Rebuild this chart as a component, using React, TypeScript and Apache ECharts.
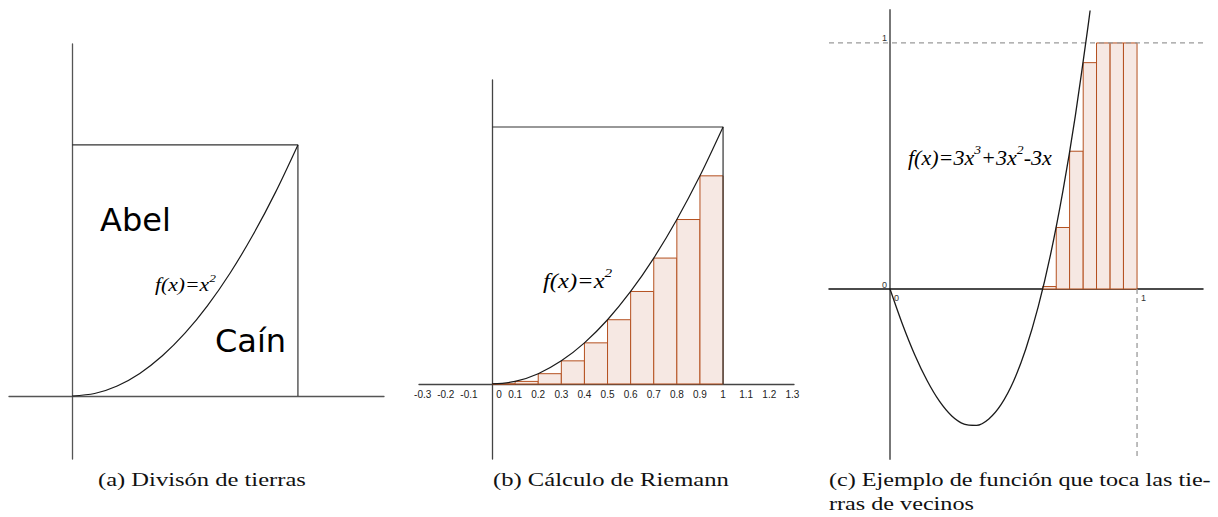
import React, { useEffect, useRef } from "react";
import * as echarts from "echarts";

// ---------- data ----------
// f(x) = x^2 (panels a and b)
const parabolaX = [0, 0.1, 0.2, 0.3, 0.4, 0.5, 0.6, 0.7, 0.8, 0.9, 1];
const parabolaY = [0, 0.01, 0.04, 0.09, 0.16, 0.25, 0.36, 0.49, 0.64, 0.81, 1];

// boundary of the unit square (top and right sides)
const squareX = [0, 1, 1];
const squareY = [1, 1, 0];

// Riemann rectangles (panel b)
const riemannLeft = [0, 0.1, 0.2, 0.3, 0.4, 0.5, 0.6, 0.7, 0.8, 0.9];
const riemannRight = [0.1, 0.2, 0.3, 0.4, 0.5, 0.6, 0.7, 0.8, 0.9, 1];
const riemannHeight = [0, 0.01, 0.04, 0.09, 0.16, 0.25, 0.36, 0.49, 0.64, 0.81];

// x tick labels (panel b)
const riemannTicks = [-0.3, -0.2, -0.1, 0, 0.1, 0.2, 0.3, 0.4, 0.5, 0.6, 0.7, 0.8, 0.9, 1, 1.1, 1.2, 1.3];

// f(x) = 3x^3 + 3x^2 - 3x (panel c)
const cubicX = [0, 0.05, 0.1, 0.15, 0.2, 0.25, 0.3, 0.35, 0.4, 0.45, 0.5, 0.55, 0.6, 0.65, 0.7, 0.75, 0.8, 0.81];
const cubicY = [0, -0.142, -0.267, -0.372, -0.456, -0.516, -0.549, -0.554, -0.528, -0.469, -0.375, -0.243, -0.072, 0.141, 0.399, 0.703, 1.056, 1.132];

// rectangles capped at the neighbour's border (panel c)
const neighbourLeft = [0.618, 0.673, 0.727, 0.782, 0.836, 0.891, 0.945];
const neighbourRight = [0.673, 0.727, 0.782, 0.836, 0.891, 0.945, 1];
const neighbourHeight = [0.01, 0.25, 0.56, 0.92, 1, 1, 1];
const limitLevel = 1;
const cTicksX = [0, 1];
const cTicksY = [0, 1];

// texts
const regionAbove = "Abel";
const regionBelow = "Caín";
const captionA = "(a) Divisón de tierras";
const captionB = "(b) Cálculo de Riemann";
const captionC1 = "(c) Ejemplo de función que toca las tie-";
const captionC2 = "rras de vecinos";

// ---------- style ----------
const BAR_FILL = "#f6e8e3";
const BAR_STROKE = "#b4501f";
const CURVE = "#1a1a1a";
const SERIF = "'Liberation Serif', 'Times New Roman', serif";
const SANS = "'Liberation Sans', Arial, sans-serif";

// axis ranges (view windows)
const A = { xmin: -0.279, xmax: 1.381, ymin: -0.251, ymax: 1.402 };
const B = { xmin: -0.316, xmax: 1.307, ymin: -0.292, ymax: 1.183 };
const C = { xmin: -0.247, xmax: 1.267, ymin: -0.691, ymax: 1.134 };

function measure(text: string, font: string): number {
  const ctx = document.createElement("canvas").getContext("2d");
  if (!ctx) return text.length * 8;
  ctx.font = font;
  return ctx.measureText(text).width;
}

function axis(gridIndex: number, min: number, max: number, lineStyle: any, axisLabel: any = { show: false }) {
  return {
    type: "value",
    gridIndex,
    min,
    max,
    axisLine: lineStyle ? { show: true, onZero: true, lineStyle } : { show: false },
    axisTick: { show: false },
    splitLine: { show: false },
    axisLabel,
  };
}

function lineSeries(xi: number, xs: number[], ys: number[], style: any, smooth: boolean | number = false) {
  return {
    type: "line",
    xAxisIndex: xi,
    yAxisIndex: xi,
    data: xs.map((x, i) => [x, ys[i]]),
    symbol: "none",
    showSymbol: false,
    smooth,
    silent: true,
    clip: false,
    lineStyle: style,
    z: 3,
  };
}

function rectSeries(xi: number, lefts: number[], rights: number[], heights: number[]) {
  return {
    type: "custom",
    xAxisIndex: xi,
    yAxisIndex: xi,
    silent: true,
    z: 2,
    data: lefts.map((l, i) => [l, rights[i], heights[i]]),
    encode: { x: [0, 1], y: 2 },
    renderItem: (_p: any, api: any) => {
      const a = api.coord([api.value(0), api.value(2)]);
      const b = api.coord([api.value(1), 0]);
      return {
        type: "rect",
        shape: { x: a[0], y: a[1], width: b[0] - a[0], height: b[1] - a[1] },
        style: { fill: BAR_FILL, stroke: BAR_STROKE, lineWidth: 1 },
      };
    },
  };
}

function formula(parts: [string, boolean][], x: number, y: number, size: number, scaleX: number) {
  const text = parts.map(([t, sup]) => `{${sup ? "s" : "m"}|${t}}`).join("");
  return {
    type: "text",
    x,
    y,
    scaleX,
    silent: true,
    z: 10,
    style: {
      text,
      fill: "#000",
      align: "left",
      verticalAlign: "middle",
      rich: {
        m: { fontFamily: SERIF, fontStyle: "italic", fontSize: size, lineHeight: size * 1.4, fill: "#000" },
        s: { fontFamily: SERIF, fontStyle: "italic", fontSize: size * 0.62, verticalAlign: "top", fill: "#000" },
      },
    },
  };
}

function caption(text: string, x: number, y: number, scaleX: number) {
  return {
    type: "text",
    x,
    y,
    scaleX,
    silent: true,
    style: { text, font: `18px ${SERIF}`, fill: "#111", align: "left", verticalAlign: "middle" },
  };
}

export default function App() {
  const ref = useRef<HTMLDivElement>(null);

  useEffect(() => {
    if (!ref.current) return;
    const chart = echarts.init(ref.current, undefined, { renderer: "svg" });

    const capFont = `18px ${SERIF}`;
    const sA = 208 / measure(captionA, capFont);
    const sB = 236 / measure(captionB, capFont);
    const sC = 382 / measure(captionC1, capFont);

    const bLabel = {
      show: true,
      customValues: riemannTicks,
      margin: 5,
      fontSize: 10,
      fontFamily: SANS,
      color: "#222",
      hideOverlap: false,
      formatter: (v: number) => (Math.abs(v) < 1e-9 ? "{z|0}" : String(Math.round(v * 10) / 10)),
      rich: { z: { padding: [0, 0, 0, 14], fontSize: 10, fontFamily: SANS, color: "#222" } },
    };
    const cxLabel = {
      show: true,
      customValues: cTicksX,
      align: "left",
      padding: [0, 0, 0, 4],
      margin: 4,
      fontSize: 9,
      fontFamily: SANS,
      color: "#333",
      hideOverlap: false,
    };
    const cyLabel = {
      show: true,
      customValues: cTicksY,
      margin: 3,
      verticalAlign: "bottom",
      fontSize: 9,
      fontFamily: SANS,
      color: "#333",
      hideOverlap: false,
    };

    const option: any = {
      animation: false,
      grid: [
        { left: 9, top: 44, width: 375, height: 415, outerBoundsMode: "none" },
        { left: 419, top: 80, width: 375, height: 379, outerBoundsMode: "none" },
        { left: 829, top: 10, width: 374, height: 449, outerBoundsMode: "none" },
        // label-only grids whose edges sit on the zero lines
        { left: 419, top: 80, width: 375, height: 304, outerBoundsMode: "none" },
        { left: 890, top: 10, width: 313, height: 279, outerBoundsMode: "none" },
      ],
      xAxis: [
        axis(0, A.xmin, A.xmax, { color: "#555", width: 1.3 }),
        axis(1, B.xmin, B.xmax, { color: "#444", width: 1.3 }),
        axis(2, C.xmin, C.xmax, { color: "#111", width: 1.5 }),
        axis(3, B.xmin, B.xmax, null, bLabel),
        axis(4, 0, C.xmax, null, cxLabel),
      ],
      yAxis: [
        axis(0, A.ymin, A.ymax, { color: "#555", width: 1.3 }),
        axis(1, B.ymin, B.ymax, { color: "#444", width: 1.3 }),
        axis(2, C.ymin, C.ymax, { color: "#777", width: 2 }),
        axis(3, 0, B.ymax, null),
        axis(4, 0, C.ymax, null, cyLabel),
      ],
      series: [
        // panel a
        lineSeries(0, squareX, squareY, { color: "#333", width: 1.2 }),
        lineSeries(0, parabolaX, parabolaY, { color: CURVE, width: 1.2 }, 0.3),
        // panel b
        rectSeries(1, riemannLeft, riemannRight, riemannHeight),
        lineSeries(1, squareX, squareY, { color: "#333", width: 1.2 }),
        lineSeries(1, parabolaX, parabolaY, { color: CURVE, width: 1.2 }, 0.3),
        // panel c
        lineSeries(2, [C.xmin, C.xmax], [limitLevel, limitLevel], { color: "#9a9a9a", width: 1.3, type: [5, 4] }),
        lineSeries(2, [1, 1], [0, C.ymin], { color: "#9a9a9a", width: 1.3, type: [5, 4] }),
        rectSeries(2, neighbourLeft, neighbourRight, neighbourHeight),
        lineSeries(2, cubicX, cubicY, { color: CURVE, width: 1.3 }, 0.3),
      ],
      graphic: [
        {
          type: "text",
          x: 100,
          y: 220,
          silent: true,
          style: { text: regionAbove, font: `32px 'DejaVu Sans', sans-serif`, fill: "#000", verticalAlign: "middle" },
        },
        {
          type: "text",
          x: 215,
          y: 341,
          silent: true,
          style: { text: regionBelow, font: `32px 'DejaVu Sans', sans-serif`, fill: "#000", verticalAlign: "middle" },
        },
        formula([["f(x)=x", false], ["2", true]], 155, 285, 18, 1.2),
        formula([["f(x)=x", false], ["2", true]], 543, 281, 21, 1.17),
        formula(
          [["f(x)=3x", false], ["3", true], ["+3x", false], ["2", true], ["-3x", false]],
          908,
          158,
          21,
          1.05
        ),
        caption(captionA, 98, 480, sA),
        caption(captionB, 493, 480, sB),
        caption(captionC1, 829, 480, sC),
        caption(captionC2, 829, 504, sC),
      ],
    };

    chart.setOption(option);
    return () => chart.dispose();
  }, []);

  return <div ref={ref} style={{ position: "absolute", left: 0, top: 0, width: 1218, height: 517, background: "#fff" }} />;
}
